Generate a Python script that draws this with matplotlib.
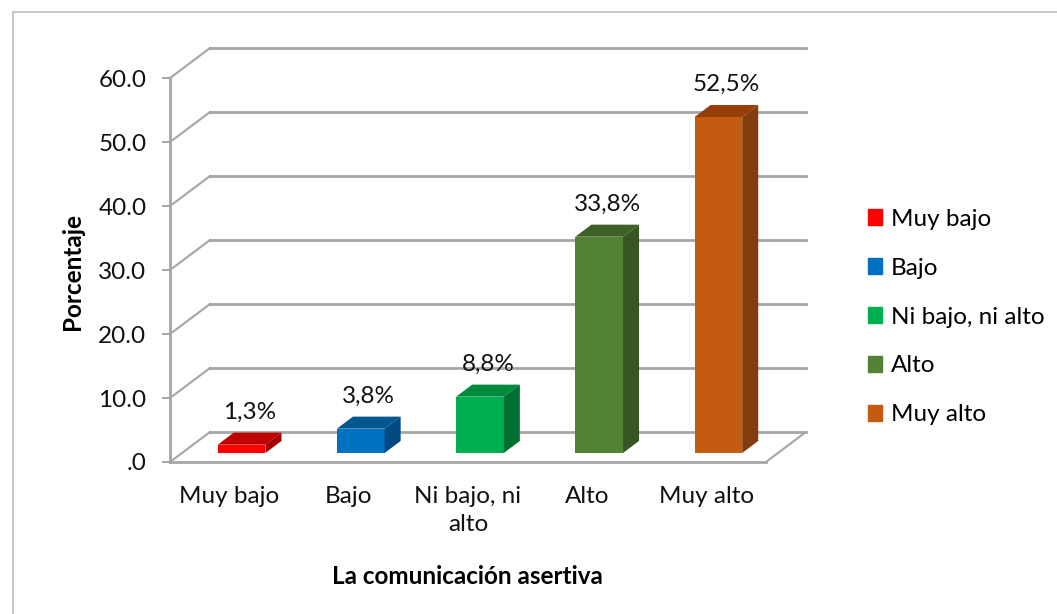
import numpy as np
from matplotlib import pyplot as plt
from matplotlib.patches import Patch, Rectangle

categories = ["Muy bajo", "Bajo", "Ni bajo, ni alto", "Alto", "Muy alto"]
tick_names = ["Muy bajo", "Bajo", "Ni bajo, ni\nalto", "Alto", "Muy alto"]
values = [1.3, 3.8, 8.8, 33.8, 52.5]
value_labels = ["1,3%", "3,8%", "8,8%", "33,8%", "52,5%"]
y_ticks = [0, 10, 20, 30, 40, 50, 60]
y_tick_labels = [".0", "10.0", "20.0", "30.0", "40.0", "50.0", "60.0"]

front_colors = ["#FF0000", "#0070C0", "#00B050", "#548235", "#C55A11"]
top_colors = ["#C00000", "#00568F", "#008A3E", "#3F6128", "#973F0A"]
side_colors = ["#A50000", "#004A80", "#007030", "#375623", "#843C0C"]
grid_col = "#A6A6A6"
fs = 17.5

plt.rcParams['font.family'] = ['Lato', 'DejaVu Sans']

# fake 3d depth, in data units
dxd = 0.336
dyd = 4.7
f0, f1 = 0.3, 0.7
bw = 0.4

fig = plt.figure(figsize=(10.57, 6.14), dpi=100)
fig.patches.append(Rectangle((13 / 1057, -0.1), 1.2, 1 - 12 / 614 + 0.1,
                             transform=fig.transFigure, fill=False,
                             edgecolor="#BFBFBF", linewidth=1.2))
ax = fig.add_axes([170 / 1057, (614 - 462) / 614, 636 / 1057, 414 / 614])
ax.set_xlim(0, 5 + dxd)
ax.set_ylim(0, 60 + dyd)
ax.patch.set_visible(False)

# back wall gridlines + left side wall diagonals
for v in y_ticks:
    ax.plot([dxd, 5 + dxd], [v + dyd, v + dyd], color=grid_col, lw=2, clip_on=False, zorder=1)
    ax.plot([0, dxd], [v, v + dyd], color=grid_col, lw=1.5, clip_on=False, zorder=1)
# floor right edge
ax.plot([5, 5 + dxd], [0, dyd], color=grid_col, lw=1.5, clip_on=False, zorder=1)

x = np.arange(len(values)) + 0.5
for i, v in enumerate(values):
    x0 = x[i] - bw / 2 + f0 * dxd
    x1 = x0 + bw
    b0 = f0 * dyd
    ddx = (f1 - f0) * dxd
    ddy = (f1 - f0) * dyd
    ax.bar(x0, v, bottom=b0, width=bw, align="edge", color=front_colors[i], zorder=3)
    ax.fill([x0, x1, x1 + ddx, x0 + ddx], [b0 + v, b0 + v, b0 + v + ddy, b0 + v + ddy],
            color=top_colors[i], zorder=3, lw=0)
    ax.fill([x1, x1 + ddx, x1 + ddx, x1], [b0, b0 + ddy, b0 + v + ddy, b0 + v],
            color=side_colors[i], zorder=3, lw=0)
    ax.text(x0 + bw / 2 + ddx / 2, b0 + v + ddy + 3.2, value_labels[i],
            ha="center", va="center", fontsize=fs, color="#111111", zorder=4)

for s in ["top", "right"]:
    ax.spines[s].set_visible(False)
ax.spines["left"].set_bounds(0, 60)
ax.spines["bottom"].set_bounds(0, 5)
for s in ["left", "bottom"]:
    ax.spines[s].set_color(grid_col)
    ax.spines[s].set_linewidth(2)

ax.set_yticks(y_ticks)
ax.set_yticklabels(y_tick_labels, fontsize=fs, color="#111111")
ax.tick_params(axis="y", length=6, width=1.5, color=grid_col, pad=11)
ax.set_xticks(x)
ax.set_xticklabels(tick_names, fontsize=fs, color="#111111", linespacing=1.45)
ax.tick_params(axis="x", length=0, pad=17)

fig.text(73 / 1057, 1 - 272 / 614, "Porcentaje", rotation=90, ha="center", va="center",
         fontsize=fs, fontweight="bold")
fig.text(467 / 1057, 1 - 576 / 614, "La comunicación asertiva", ha="center", va="center",
         fontsize=fs, fontweight="bold")

handles = [Patch(color=c, label=n) for c, n in zip(front_colors, categories)]
fig.legend(handles=handles, loc="center left", bbox_to_anchor=(858 / 1057, 1 - 317 / 614),
           frameon=False, fontsize=fs, handlelength=0.6, handleheight=0.6,
           handletextpad=0.35, labelspacing=1.15, borderaxespad=0)

fig.savefig("out.png", dpi=100)
